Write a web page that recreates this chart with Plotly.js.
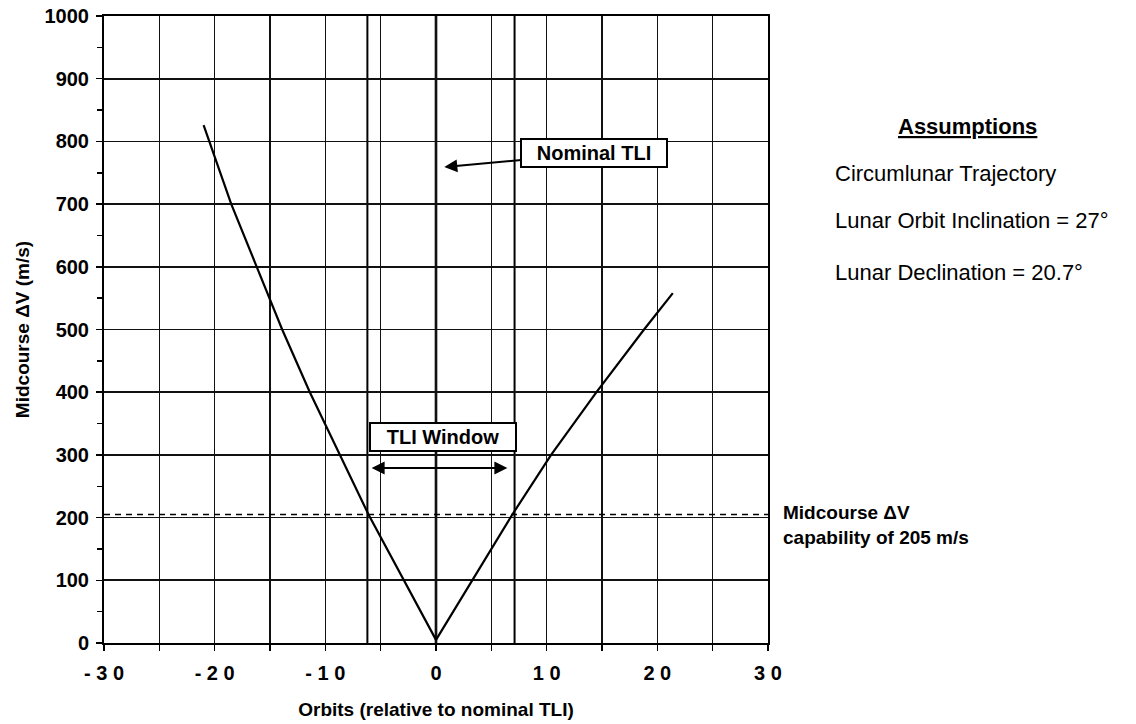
<!DOCTYPE html>
<html>
<head>
<meta charset="utf-8">
<script src="https://cdn.plot.ly/plotly-3.0.1.min.js"></script>
<style>
  html, body { margin: 0; padding: 0; background: #fff; }
  #chart { width: 1136px; height: 724px; }
</style>
</head>
<body>
<div id="chart"></div>
<script>
// ---- data ----
const leftOrbits  = [-21, -20, -18.5, -16.2, -13.9, -11.4, -8.7, -6.1, 0];
const leftDeltaV  = [826, 775, 700, 600, 500, 400, 300, 205, 5];
const rightOrbits = [0, 6.9, 10.4, 14.5, 18.8, 21.4];
const rightDeltaV = [5, 205, 300, 400, 500, 558];
const capability = 205;                 // m/s dashed line
const windowBounds = [-6.2, 7.1];       // TLI window edges (orbits)
const nominalTLI = 0;
const xTickVals = [-30, -25, -20, -15, -10, -5, 0, 5, 10, 15, 20, 25, 30];
const xTickText = ['- 3 0', '', '- 2 0', '', '- 1 0', '', '0', '', '1 0', '', '2 0', '', '3 0'];
const assumptionsTitle = 'Assumptions';
const assumptions = ['Circumlunar Trajectory', 'Lunar Orbit Inclination = 27°', 'Lunar Declination = 20.7°'];
const capabilityText = ['Midcourse ΔV', 'capability of 205 m/s'];

const FONT = 'Liberation Sans, Arial, Helvetica, sans-serif';

const curveX = leftOrbits.concat(rightOrbits.slice(1));
const curveY = leftDeltaV.concat(rightDeltaV.slice(1));

const traces = [{
  x: curveX, y: curveY, type: 'scatter', mode: 'lines',
  line: { color: '#000', width: 2.2 }, hoverinfo: 'x+y', showlegend: false
}];

const shapes = [];
windowBounds.forEach(b => shapes.push({
  type: 'line', xref: 'x', yref: 'paper', x0: b, x1: b, y0: 0, y1: 1,
  line: { color: '#000', width: 2 }, layer: 'below'
}));
shapes.push({
  type: 'line', xref: 'x', yref: 'paper', x0: nominalTLI, x1: nominalTLI, y0: 0, y1: 1,
  line: { color: '#000', width: 2.6 }, layer: 'below'
});
shapes.push({
  type: 'line', xref: 'paper', yref: 'y', x0: 0, x1: 1.005, y0: capability, y1: capability,
  line: { color: '#000', width: 1.5, dash: '6px,5px' }
});

const PX = px => (px - 104) / 664;
const PY = py => (643 - py) / 627;

const annotations = [
  { // Nominal TLI callout
    xref: 'x', yref: 'y', x: 0.75, y: 759, text: '<b>Nominal TLI</b>',
    showarrow: true, arrowhead: 2, arrowsize: 1.3, arrowwidth: 2, arrowcolor: '#000',
    ax: 150, ay: -14, font: { family: FONT, size: 20, color: '#000' },
    bgcolor: '#fff', bordercolor: '#000', borderwidth: 2, borderpad: 2, width: 140
  },
  { // TLI Window label
    xref: 'x', yref: 'y', x: 0.63, y: 329, text: '<b>TLI Window</b>', showarrow: false,
    font: { family: FONT, size: 20, color: '#000' },
    bgcolor: '#fff', bordercolor: '#000', borderwidth: 2, borderpad: 2, width: 140
  },
  { // double arrow across the window
    xref: 'x', yref: 'y', axref: 'x', ayref: 'y',
    x: 6.45, y: 279, ax: -5.95, ay: 279, text: '', showarrow: true,
    arrowhead: 2, startarrowhead: 2, arrowside: 'end+start', arrowsize: 1.3, startarrowsize: 1.3,
    arrowwidth: 2, arrowcolor: '#000'
  },
  {
    xref: 'paper', yref: 'paper', x: PX(967), y: PY(126), xanchor: 'center', yanchor: 'middle',
    text: '<b><u>' + assumptionsTitle + '</u></b>', showarrow: false,
    font: { family: FONT, size: 22, color: '#000' }
  },
  {
    xref: 'paper', yref: 'paper', x: PX(833), y: PY(173), xanchor: 'left', yanchor: 'middle',
    text: assumptions[0], showarrow: false, font: { family: FONT, size: 22, color: '#000' }
  },
  {
    xref: 'paper', yref: 'paper', x: PX(833), y: PY(220), xanchor: 'left', yanchor: 'middle',
    text: assumptions[1], showarrow: false, font: { family: FONT, size: 22, color: '#000' }
  },
  {
    xref: 'paper', yref: 'paper', x: PX(833), y: PY(272), xanchor: 'left', yanchor: 'middle',
    text: assumptions[2], showarrow: false, font: { family: FONT, size: 22, color: '#000' }
  },
  {
    xref: 'paper', yref: 'paper', x: PX(781), y: PY(512), xanchor: 'left', yanchor: 'middle',
    text: '<b>' + capabilityText[0] + '</b>', showarrow: false, font: { family: FONT, size: 19, color: '#000' }
  },
  {
    xref: 'paper', yref: 'paper', x: PX(781), y: PY(537), xanchor: 'left', yanchor: 'middle',
    text: '<b>' + capabilityText[1] + '</b>', showarrow: false, font: { family: FONT, size: 19, color: '#000' }
  }
];

const layout = {
  width: 1136, height: 724,
  margin: { l: 104, r: 368, t: 16, b: 81, pad: 0 },
  paper_bgcolor: '#fff', plot_bgcolor: '#fff',
  showlegend: false,
  font: { family: FONT, color: '#000' },
  xaxis: {
    range: [-30, 30], tickmode: 'array', tickvals: xTickVals, ticktext: xTickText,
    ticks: 'outside', ticklen: 6, tickwidth: 1.5, tickcolor: '#000',
    showgrid: true, gridcolor: '#111', gridwidth: 1.6,
    zeroline: false, showline: true, linecolor: '#000', linewidth: 2, mirror: true,
    tickfont: { family: FONT, size: 20, color: '#000', weight: 'bold' },
    ticklabelstandoff: 5,
    title: { text: '<b>Orbits (relative to nominal TLI)</b>', font: { family: FONT, size: 19, color: '#000' }, standoff: 20 },
    fixedrange: true
  },
  yaxis: {
    range: [0, 1000], dtick: 100, tick0: 0,
    ticks: 'outside', ticklen: 6, tickwidth: 1.5, tickcolor: '#000',
    showgrid: true, gridcolor: '#111', gridwidth: 1.6,
    minor: { dtick: 50, ticks: 'outside', ticklen: 5, tickwidth: 1.5, tickcolor: '#000', showgrid: false },
    zeroline: false, showline: true, linecolor: '#000', linewidth: 2, mirror: true,
    tickfont: { family: FONT, size: 20, color: '#000', weight: 'bold' },
    ticklabelstandoff: 3,
    title: { text: '<b>Midcourse ΔV (m/s)</b>', font: { family: FONT, size: 19, color: '#000' }, standoff: 10 },
    fixedrange: true
  },
  shapes: shapes,
  annotations: annotations
};

Plotly.newPlot('chart', traces, layout, { displayModeBar: false, staticPlot: true });
</script>
</body>
</html>
